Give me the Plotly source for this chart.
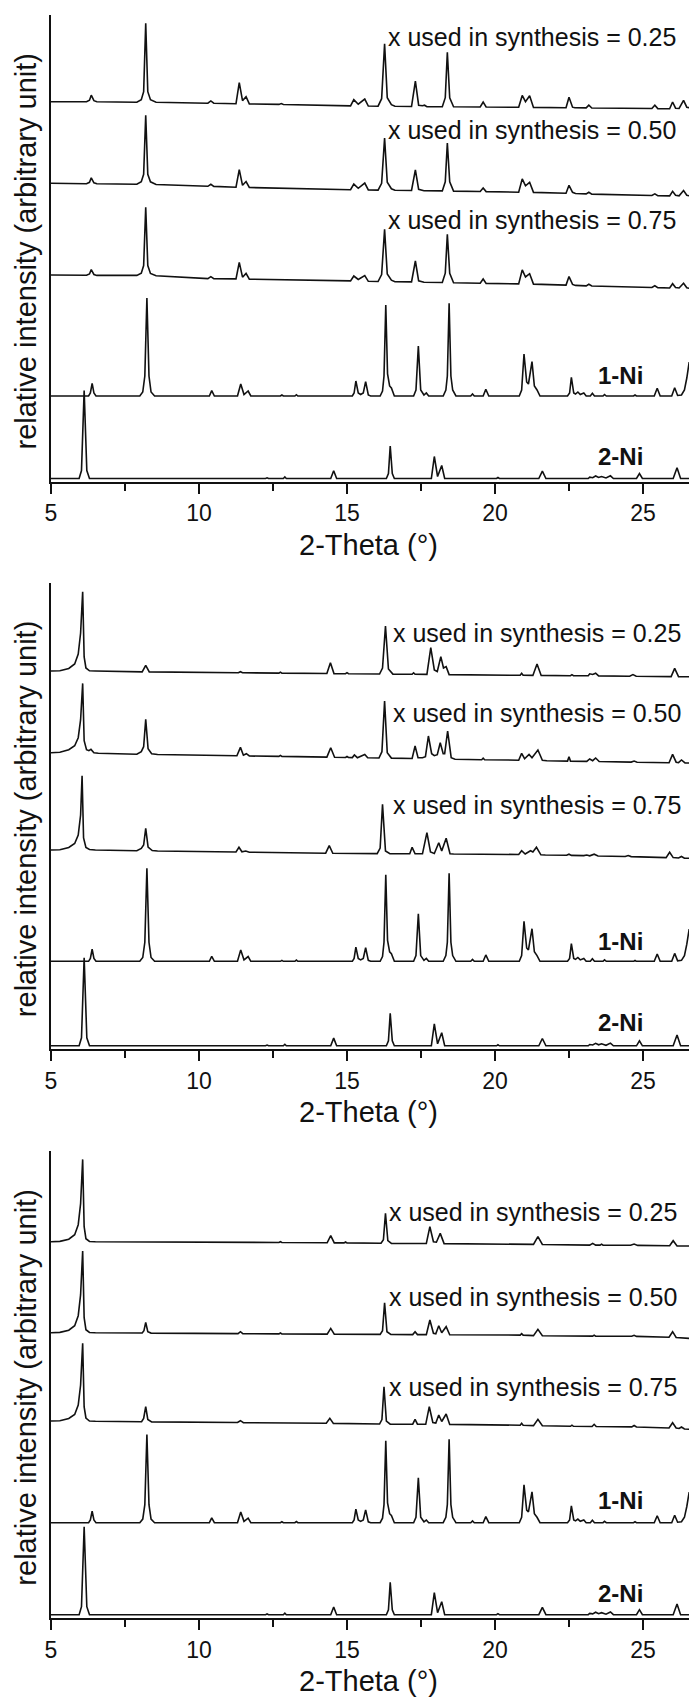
import plotly.graph_objects as go

# ---------------------------------------------------------------------------
# Powder patterns as (2-theta in degrees, intensity in arbitrary units) points.
# Intensities are relative to each pattern's own starting baseline.
# ---------------------------------------------------------------------------

# simulated reference pattern of 1-Ni
NI1 = [(5.0, 0), (6.27, 0), (6.33, 3), (6.39, 12.7), (6.45, 3), (6.52, 0),
       (8.0, 0), (8.1, 4), (8.17, 20), (8.24, 98), (8.31, 20), (8.38, 4), (8.5, 0),
       (10.35, 0), (10.43, 5.3), (10.52, 0),
       (11.3, 0), (11.41, 12), (11.52, 1.5), (11.66, 5), (11.75, 0),
       (12.75, 0), (12.8, 1), (12.85, 0),
       (13.24, 0), (13.29, 1.3), (13.34, 0),
       (15.18, 0), (15.24, 3), (15.3, 15), (15.38, 3), (15.46, 1.5), (15.55, 3),
       (15.63, 14.3), (15.72, 1), (15.8, 0),
       (16.12, 0), (16.2, 5), (16.25, 20), (16.31, 91), (16.37, 22), (16.44, 10),
       (16.5, 8), (16.6, 0),
       (17.25, 0), (17.33, 6), (17.41, 50), (17.49, 6), (17.6, 1), (17.68, 3), (17.76, 0),
       (18.25, 0), (18.34, 6), (18.39, 20), (18.45, 92.7), (18.51, 20), (18.57, 6), (18.68, 0),
       (19.18, 0), (19.24, 2), (19.3, 0),
       (19.6, 0), (19.69, 6.7), (19.79, 0),
       (20.82, 0), (20.9, 6), (20.98, 42), (21.07, 14), (21.13, 12), (21.25, 34.3),
       (21.33, 10), (21.42, 6), (21.52, 0),
       (22.45, 0), (22.52, 3), (22.58, 18.7), (22.66, 3), (22.72, 2), (22.8, 4),
       (22.88, 1.5), (23.0, 3), (23.08, 0),
       (23.22, 0), (23.29, 2.7), (23.36, 0),
       (23.65, 0), (23.7, 1.5), (23.76, 0),
       (24.68, 0), (24.73, 1), (24.78, 0),
       (25.38, 0), (25.48, 7.7), (25.58, 0),
       (25.97, 0), (26.07, 8.3), (26.17, 0.5), (26.3, 1), (26.4, 6), (26.48, 18), (26.56, 34)]

# simulated reference pattern of 2-Ni
NI2 = [(5.0, 0), (5.95, 0), (6.03, 8), (6.12, 88), (6.21, 8), (6.3, 0),
       (12.25, 0), (12.3, 0.7), (12.35, 0),
       (12.85, 0), (12.9, 1.5), (12.95, 0),
       (14.45, 0), (14.55, 7.7), (14.65, 0),
       (15.15, 0), (15.2, 0.7), (15.25, 0),
       (16.33, 0), (16.4, 5), (16.46, 32.5), (16.53, 5), (16.6, 0),
       (17.85, 0), (17.95, 22), (18.06, 2), (18.2, 13), (18.3, 0),
       (20.05, 0), (20.1, 1), (20.15, 0),
       (21.48, 0), (21.6, 7.3), (21.72, 0),
       (23.15, 0), (23.2, 1.3), (23.3, 0.8), (23.4, 2.5), (23.5, 1), (23.6, 2),
       (23.75, 0.5), (23.9, 2.7), (24.0, 0),
       (24.78, 0), (24.88, 5), (24.98, 0),
       (26.02, 0), (26.15, 10.7), (26.27, 0), (26.56, 0)]

# measured patterns, first sample series
S1_025 = [(5.0, 0), (6.2, 0), (6.3, 1.5), (6.36, 6.5), (6.45, 1), (6.55, 0),
          (7.9, -0.5), (8.05, 2), (8.13, 10), (8.2, 78.5), (8.27, 10), (8.36, 2), (8.55, -0.5),
          (10.3, -1.5), (10.4, 0.8), (10.5, -1.5),
          (11.25, -2), (11.36, 19), (11.47, 1), (11.59, 5), (11.7, -2.2),
          (12.7, -2.7), (12.78, -1.8), (12.85, -2.8),
          (15.12, -4.2), (15.23, 2), (15.38, -2.5), (15.6, 2.6), (15.72, -4.3),
          (16.05, -4.5), (16.17, 3), (16.27, 58), (16.36, 4), (16.5, -3), (16.62, -4.6),
          (17.18, -4.8), (17.31, 20.5), (17.42, -3.5), (17.55, -4), (17.62, -3.5), (17.7, -4.9),
          (18.22, -5), (18.32, 4), (18.39, 49.5), (18.47, 4), (18.6, -5.1),
          (19.5, -5.3), (19.6, -0.3), (19.7, -5.3),
          (20.8, -5.6), (20.92, 6.3), (21.03, 0), (21.17, 6), (21.3, -5.7),
          (22.4, -6.1), (22.5, 4.5), (22.62, -5.5), (22.7, -6.1),
          (23.08, -6.2), (23.17, -3.5), (23.27, -6.3),
          (25.3, -6.8), (25.4, -3.5), (25.5, -6.9),
          (25.9, -7), (26.0, -0.3), (26.1, -6.5), (26.22, -6.8), (26.37, 1.3), (26.48, -5.5),
          (26.56, -6)]

S1_050 = [(5.0, 0), (6.2, -0.4), (6.3, 1), (6.36, 5.5), (6.45, 0.5), (6.55, -0.5),
          (7.9, -0.9), (8.05, 1.5), (8.13, 9), (8.2, 68), (8.27, 9), (8.36, 1.5), (8.55, -1.2),
          (10.3, -3), (10.4, -1), (10.5, -3.1),
          (11.25, -3.9), (11.36, 13.7), (11.47, -2), (11.59, 1.8), (11.7, -4.2),
          (15.12, -6.4), (15.23, -0.8), (15.38, -5), (15.6, 0.2), (15.72, -6.6),
          (16.05, -6.8), (16.17, 0), (16.27, 45.3), (16.36, 1), (16.5, -5.5), (16.62, -7),
          (17.18, -7.2), (17.31, 13.4), (17.42, -6), (17.6, -7.4),
          (18.22, -7.6), (18.32, 1.5), (18.39, 40.3), (18.47, 1.5), (18.6, -7.8),
          (19.5, -8.2), (19.6, -4.6), (19.7, -8.3),
          (20.8, -8.9), (20.92, 4.4), (21.03, -2.5), (21.17, 1), (21.3, -9.1),
          (22.4, -9.9), (22.5, -2), (22.62, -9), (22.72, -10.2),
          (23.08, -10.6), (23.17, -9), (23.27, -10.8),
          (25.3, -12.2), (25.4, -10.6), (25.5, -12.4),
          (25.9, -12.6), (26.0, -8), (26.1, -12), (26.22, -12.5), (26.37, -7.2), (26.48, -12),
          (26.56, -12.5)]

S1_075 = [(5.0, 0), (6.2, -0.3), (6.3, 1), (6.36, 5.4), (6.45, 0.5), (6.55, -0.4),
          (7.9, -0.4), (8.05, 1.8), (8.13, 9.5), (8.2, 67.7), (8.27, 9.5), (8.36, 1.5), (8.55, -0.8),
          (10.3, -3.6), (10.4, -1.7), (10.5, -3.7),
          (11.25, -3.9), (11.36, 12.7), (11.47, -2.2), (11.59, 1.6), (11.7, -4.2),
          (15.12, -5.9), (15.23, -1), (15.38, -4.5), (15.6, -0.6), (15.72, -6.3),
          (16.05, -6.5), (16.17, 0.5), (16.27, 45.6), (16.36, 1), (16.5, -5.2), (16.62, -6.8),
          (17.18, -6.9), (17.31, 14), (17.42, -5.8), (17.6, -7.2),
          (18.22, -7.5), (18.32, 1.8), (18.39, 40.6), (18.47, 1.8), (18.6, -7.8),
          (19.5, -8.2), (19.6, -4), (19.7, -8.4),
          (20.8, -8.9), (20.92, 5.1), (21.03, -2), (21.17, 1.3), (21.3, -9.1),
          (22.4, -10.1), (22.5, -1.6), (22.62, -9.4), (22.72, -10.4),
          (23.08, -10.9), (23.17, -9.3), (23.27, -11),
          (25.3, -12.5), (25.4, -10.8), (25.5, -12.6),
          (25.9, -13), (26.0, -8.7), (26.1, -12.6), (26.22, -13), (26.37, -8.3), (26.48, -12.8),
          (26.56, -13.3)]

# measured patterns, second sample series
S2_025 = [(5.0, 0), (5.3, 0.3), (5.6, 2.5), (5.8, 7), (5.92, 17), (6.0, 38), (6.07, 79.3),
          (6.12, 14), (6.18, 3), (6.3, 0.2), (6.5, 0),
          (8.08, -0.9), (8.2, 5.6), (8.32, -0.9),
          (11.33, -1.7), (11.4, -0.7), (11.47, -1.8),
          (12.7, -2.1), (12.75, -1.1), (12.8, -2.1),
          (14.32, -2.5), (14.44, 8.2), (14.56, -2.6),
          (14.95, -2.7), (15.0, -1.7), (15.05, -2.7),
          (16.1, -3), (16.2, 3), (16.3, 45), (16.4, 2), (16.55, -3.1),
          (17.2, -3.3), (17.25, -1.8), (17.3, -3.3),
          (17.7, -3.4), (17.83, 23.3), (17.95, 1), (18.05, -0.5), (18.17, 14.4), (18.26, 3),
          (18.35, 4.4), (18.45, -3.6),
          (20.85, -4.3), (20.9, -2.3), (20.95, -4.3),
          (21.28, -4.4), (21.42, 7.1), (21.56, -4.4),
          (22.55, -4.7), (22.6, -3.7), (22.65, -4.7),
          (23.15, -4.8), (23.2, -2.8), (23.3, -3.5), (23.4, -2.2), (23.5, -4.9),
          (24.55, -5.2), (24.66, -3.6), (24.77, -5.3),
          (25.95, -5.6), (26.07, 2.6), (26.2, -5.6), (26.56, -5.7)]

S2_050 = [(5.0, 0), (5.3, 0.5), (5.6, 3), (5.8, 7), (5.92, 15), (6.0, 33), (6.07, 69.3),
          (6.12, 12), (6.2, 3), (6.28, 2), (6.35, 3.3), (6.45, 0), (6.6, -0.5),
          (7.9, -1.5), (8.05, 1), (8.13, 6), (8.2, 33.3), (8.28, 4), (8.4, -1), (8.6, -1.8),
          (11.28, -3), (11.4, 5.3), (11.5, -2.5), (11.6, -1), (11.7, -3.3),
          (12.7, -3.7), (12.75, -2.7), (12.8, -3.7),
          (14.32, -4.4), (14.45, 5), (14.58, -4.6),
          (14.95, -4.8), (15.0, -3.8), (15.05, -4.8),
          (15.18, -4.9), (15.25, -2.3), (15.35, -5), (15.6, -1.7), (15.7, -5.1),
          (16.08, -5.3), (16.18, 1), (16.27, 51.7), (16.36, 0), (16.5, -5.4),
          (17.2, -5.8), (17.3, 6.7), (17.4, -5), (17.55, -5), (17.65, -4), (17.75, 16.7),
          (17.86, -1), (17.95, -3), (18.05, -2), (18.15, 10), (18.25, -1), (18.3, -1),
          (18.4, 21.7), (18.52, -5), (18.65, -6.5),
          (19.55, -7), (19.6, -5.5), (19.65, -7),
          (20.8, -7.5), (20.9, -0.7), (21.0, -6), (21.15, -1.7), (21.25, -5), (21.45, 2.7),
          (21.6, -7.5), (21.75, -8),
          (22.45, -8.4), (22.5, -4), (22.55, -8.4),
          (23.1, -8.7), (23.2, -6.3), (23.3, -8), (23.4, -5.3), (23.52, -8.8),
          (24.6, -9.4), (24.7, -8.3), (24.8, -9.5),
          (25.5, -9.9), (25.6, -9.3), (25.7, -9.9),
          (25.88, -10.1), (26.0, -1.7), (26.12, -9.5), (26.2, -10), (26.3, -7.3), (26.42, -10.2),
          (26.56, -10.3)]

S2_075 = [(5.0, 0), (5.3, 0.3), (5.6, 2.5), (5.8, 6.5), (5.92, 15), (6.0, 35), (6.05, 74.3),
          (6.1, 12), (6.18, 2.5), (6.3, 0.5), (6.5, 0),
          (7.9, -0.7), (8.05, 1.5), (8.13, 5), (8.2, 21.7), (8.28, 3), (8.42, -0.5), (8.6, -1),
          (11.25, -2), (11.35, 2.7), (11.45, -1.8), (11.58, -1), (11.7, -2.2),
          (14.28, -3.2), (14.4, 4.3), (14.52, -3.3),
          (16.02, -3.6), (16.12, 2), (16.2, 45.7), (16.3, -1), (16.45, -3.7),
          (17.12, -3.8), (17.2, 2.7), (17.3, -3.8), (17.55, -3.8), (17.7, 17.3), (17.82, -2),
          (17.95, -3.5), (18.1, 7.3), (18.2, -1), (18.35, 11.7), (18.48, -3.8), (18.6, -4),
          (20.8, -4.5), (20.9, -0.7), (21.02, -4), (21.2, -0.7), (21.28, -2), (21.4, 2.7),
          (21.55, -4.8), (21.7, -5),
          (22.42, -5.3), (22.5, -4.2), (22.58, -5.4),
          (23.0, -5.6), (23.1, -5), (23.2, -5.8), (23.35, -4.2), (23.48, -6),
          (24.4, -6.5), (24.5, -5.5), (24.6, -6.6),
          (25.78, -7.6), (25.9, -2.3), (26.02, -7.6), (26.2, -8), (26.3, -6.5), (26.4, -8.2),
          (26.56, -8.3)]

# measured patterns, third sample series
S3_025 = [(5.0, 0), (5.3, 0.3), (5.6, 2.5), (5.8, 7), (5.92, 17), (6.0, 38), (6.07, 82.3),
          (6.12, 15), (6.18, 3), (6.3, 0.2), (6.5, 0),
          (12.7, -0.8), (12.75, 0), (12.8, -0.8),
          (14.33, -1.1), (14.45, 6), (14.57, -1.2),
          (14.9, -1.2), (14.95, -0.3), (15.0, -1.2),
          (16.15, -1.6), (16.23, 2), (16.3, 28.3), (16.38, 1), (16.5, -1.7),
          (17.68, -1.8), (17.8, 15), (17.92, 0), (18.02, -0.5), (18.15, 8.3), (18.28, -1.9),
          (21.3, -2.7), (21.45, 5), (21.6, -2.8),
          (23.2, -3.4), (23.3, -1.7), (23.4, -3.4), (23.55, -3.4), (23.6, -2.4), (23.65, -3.4),
          (24.58, -3.6), (24.7, -2.3), (24.82, -3.7),
          (25.9, -4.1), (26.02, 1), (26.15, -4.2), (26.56, -4.3)]

S3_050 = [(5.0, 0), (5.3, 0.3), (5.6, 2.5), (5.8, 7), (5.92, 17), (6.0, 38), (6.07, 81.7),
          (6.12, 15), (6.18, 3), (6.3, 0.2), (6.5, 0),
          (8.08, -0.3), (8.14, 2), (8.2, 10.3), (8.27, 1), (8.38, -0.4),
          (11.32, -0.9), (11.4, 1), (11.48, -0.9),
          (12.7, -1.2), (12.75, -0.3), (12.8, -1.2),
          (14.33, -1.4), (14.45, 4.3), (14.57, -1.5),
          (16.12, -1.7), (16.2, 2), (16.27, 30), (16.35, 1), (16.48, -1.8),
          (17.22, -1.9), (17.3, 1), (17.38, -1.9), (17.68, -1.9), (17.8, 12.7), (17.92, -0.5),
          (18.0, -1), (18.1, 7), (18.2, 0), (18.35, 6), (18.47, -2),
          (20.85, -2.4), (20.9, -0.9), (20.95, -2.4),
          (21.3, -2.9), (21.45, 3.3), (21.6, -3),
          (23.3, -3.4), (23.35, -2.4), (23.4, -3.4),
          (24.62, -3.6), (24.7, -2.6), (24.78, -3.7),
          (25.88, -4.5), (26.0, 1), (26.12, -4.8), (26.56, -5.7)]

S3_075 = [(5.0, 0), (5.3, 0.3), (5.6, 2.5), (5.8, 6.5), (5.92, 16), (6.0, 36), (6.07, 77.7),
          (6.12, 14), (6.18, 3), (6.3, 0), (6.5, -0.2),
          (8.06, -0.7), (8.13, 2.5), (8.2, 14.3), (8.27, 1.5), (8.4, -0.9),
          (11.3, -1.5), (11.4, 0.3), (11.5, -1.6),
          (14.3, -2.3), (14.42, 2.7), (14.54, -2.4),
          (16.1, -3), (16.18, 1.5), (16.25, 34.3), (16.33, 0), (16.46, -3.1),
          (17.22, -3.2), (17.3, 1.7), (17.38, -3.2), (17.66, -3.3), (17.78, 14.3), (17.9, -1.5),
          (18.0, -2), (18.1, 6), (18.2, -0.5), (18.35, 7), (18.47, -3.4),
          (20.85, -4.2), (20.9, -2.3), (20.95, -4.2),
          (21.3, -4.6), (21.45, 1.7), (21.6, -4.7),
          (22.55, -5.3), (22.6, -4.2), (22.65, -5.3),
          (23.28, -5.5), (23.35, -3.3), (23.42, -5.5),
          (24.62, -5.9), (24.7, -4.5), (24.78, -6),
          (25.88, -7), (26.0, -1.7), (26.12, -7), (26.22, -7.5), (26.3, -6), (26.4, -8),
          (26.56, -8.3)]

SERIES_LABELS = ["x used in synthesis = 0.25",
                 "x used in synthesis = 0.50",
                 "x used in synthesis = 0.75"]
REF_LABELS = ["1-Ni", "2-Ni"]
MEASURED = [[S1_025, S1_050, S1_075],
            [S2_025, S2_050, S2_075],
            [S3_025, S3_050, S3_075]]

# ---------------------------------------------------------------------------
# Page geometry (pixels) and stacking of the patterns
# ---------------------------------------------------------------------------
W, H = 689, 1698
ML = 51                    # left margin: x = 5 sits on the y-axis line
PX_PER_DEG = 29.6
X_RANGE = [5, 5 + (W - ML) / PX_PER_DEG]

# each panel: top of y-axis, x-axis line, vertical offsets of the five patterns
PANELS = [
    dict(top=15, bottom=482, offsets=[380.3, 298.7, 207.0, 86.0, 3.5], ref1_scale=1.0,
         label_x=386, label_y=[37, 130, 220], ref_y=[375, 456]),
    dict(top=583, bottom=1049.3, offsets=[378.3, 296.6, 199.3, 88.0, 3.5], ref1_scale=0.95,
         label_x=391, label_y=[633, 713, 805], ref_y=[942, 1023]),
    dict(top=1151, bottom=1618.3, offsets=[376.6, 285.6, 197.3, 95.6, 3.6], ref1_scale=0.9,
         label_x=387, label_y=[1212, 1297, 1387], ref_y=[1500, 1593]),
]

FONT = "Liberation Sans, Arial, sans-serif"
INK = "#111111"


def px_x(px):
    return (px - ML) / (W - ML)


def px_y(py):
    return 1 - py / H


fig = go.Figure()
annotations = []
layout_axes = {}

for i, panel in enumerate(PANELS):
    n = "" if i == 0 else str(i + 1)
    span = panel["bottom"] - panel["top"]
    patterns = MEASURED[i] + [NI1, NI2]
    scales = [1, 1, 1, panel["ref1_scale"], 1]
    for pattern, off, sc in zip(patterns, panel["offsets"], scales):
        xs = [p[0] for p in pattern]
        ys = [off + sc * p[1] for p in pattern]
        fig.add_trace(go.Scatter(x=xs, y=ys, mode="lines", xaxis="x" + n, yaxis="y" + n,
                                 line=dict(color=INK, width=1.6), hoverinfo="skip",
                                 showlegend=False))

    layout_axes["xaxis" + n] = dict(
        domain=[0, 1], anchor="y" + n, range=X_RANGE, showgrid=False, zeroline=False,
        showline=True, linecolor=INK, linewidth=1.7,
        ticks="outside", ticklen=10, tickwidth=1.6, tickcolor=INK,
        tick0=5, dtick=5, tickfont=dict(family=FONT, size=23, color=INK),
        minor=dict(ticks="outside", ticklen=7, tickwidth=1.6, tickcolor=INK, dtick=2.5),
    )
    layout_axes["yaxis" + n] = dict(
        domain=[px_y(panel["bottom"]), px_y(panel["top"])], anchor="x" + n,
        range=[0, span], showgrid=False, zeroline=False, showline=True,
        linecolor=INK, linewidth=1.6, ticks="", showticklabels=False,
    )

    for lbl, yy in zip(SERIES_LABELS, panel["label_y"]):
        annotations.append(dict(text=lbl, xref="paper", yref="paper",
                                x=px_x(panel["label_x"]), y=px_y(yy),
                                xanchor="left", yanchor="middle", showarrow=False,
                                font=dict(family=FONT, size=25, color=INK)))
    for lbl, yy in zip(REF_LABELS, panel["ref_y"]):
        annotations.append(dict(text="<b>" + lbl + "</b>", xref="paper", yref="paper",
                                x=px_x(620), y=px_y(yy), xanchor="center", yanchor="middle",
                                showarrow=False, font=dict(family=FONT, size=24, color=INK)))
    # axis titles
    annotations.append(dict(text="2-Theta (°)", xref="paper", yref="paper",
                            x=px_x(368), y=px_y(panel["bottom"] + 63),
                            xanchor="center", yanchor="middle", showarrow=False,
                            font=dict(family=FONT, size=29, color=INK)))
    annotations.append(dict(text="relative intensity (arbitrary unit)", xref="paper",
                            yref="paper", x=px_x(26),
                            y=px_y((panel["top"] + panel["bottom"]) / 2 + 3),
                            xanchor="center", yanchor="middle", textangle=-90,
                            showarrow=False, font=dict(family=FONT, size=29, color=INK)))

fig.update_layout(width=W, height=H, margin=dict(l=ML, r=0, t=0, b=0),
                  paper_bgcolor="white", plot_bgcolor="white",
                  annotations=annotations, **layout_axes)

fig.write_html("out.html")
